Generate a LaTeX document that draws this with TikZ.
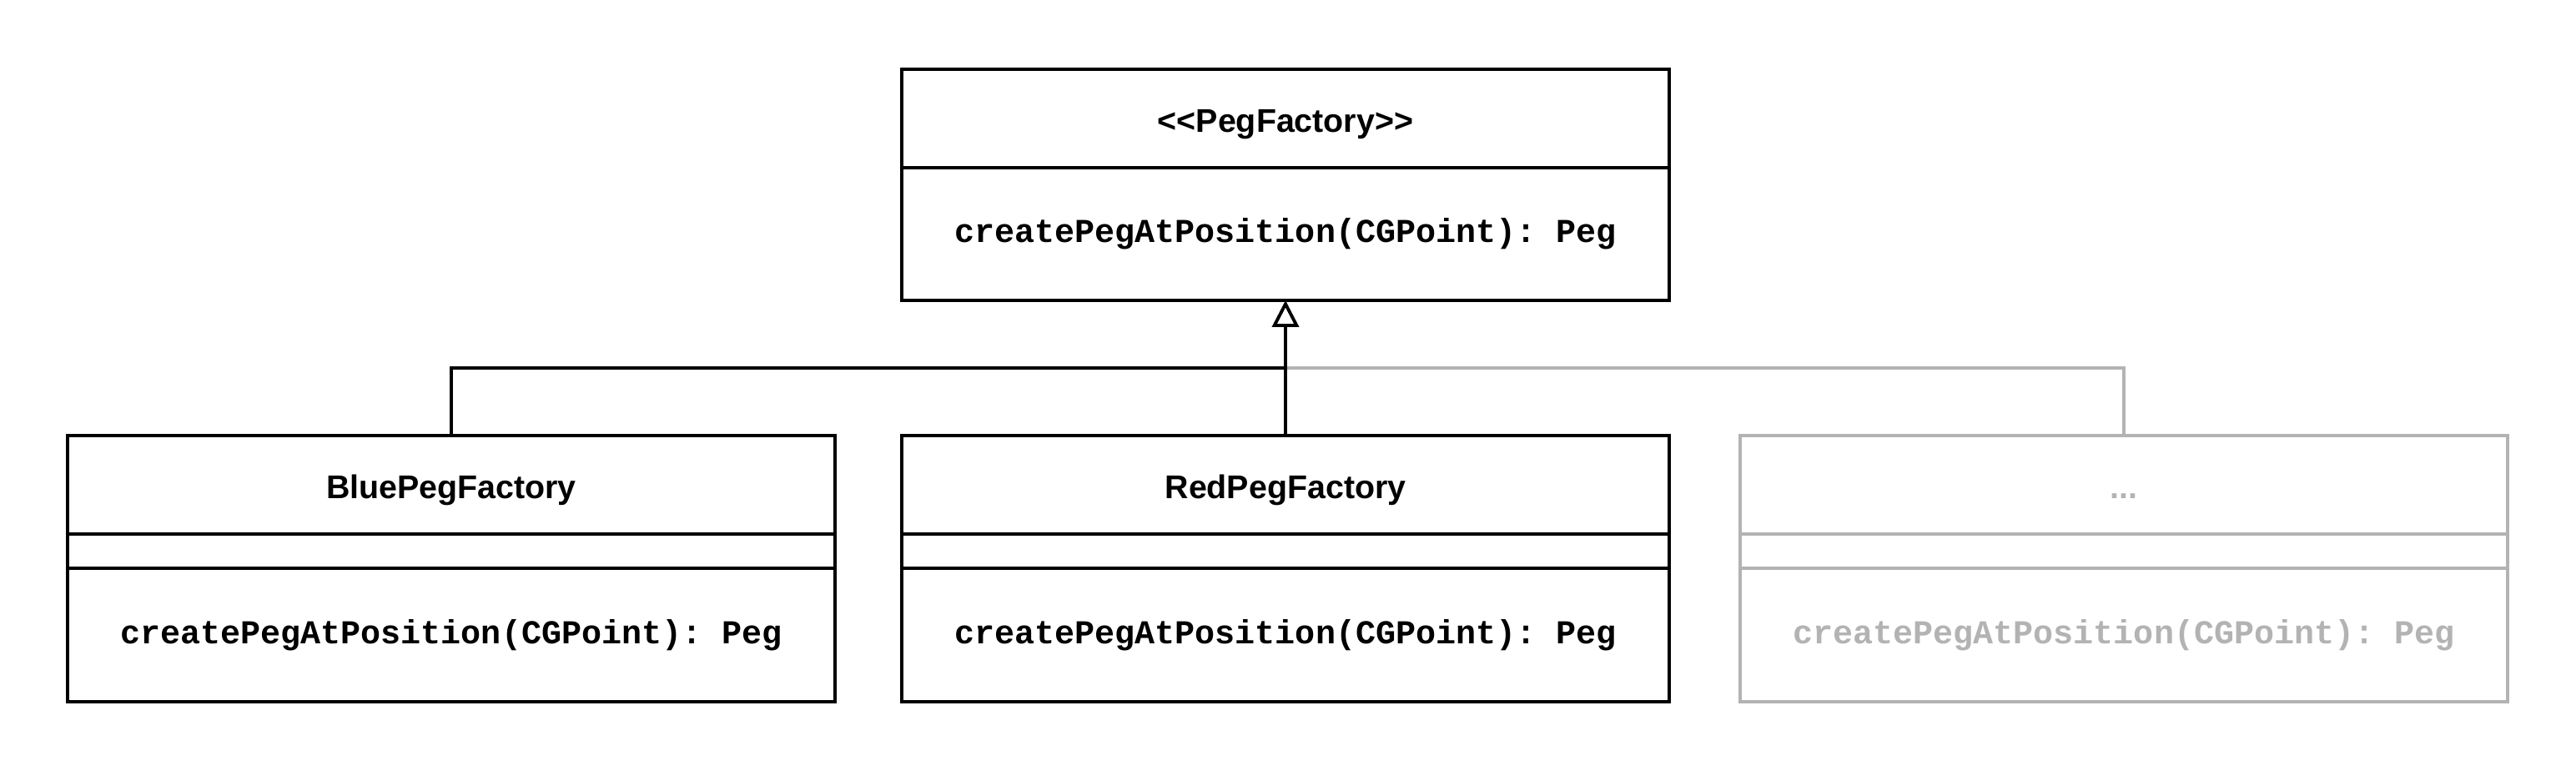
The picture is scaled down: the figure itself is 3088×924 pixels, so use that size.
\documentclass[tikz,border=0pt]{standalone}
\usepackage{fontspec}
\setsansfont{Liberation Sans}
\setmonofont{Liberation Mono}
\usetikzlibrary{arrows.meta}
\definecolor{umlgrey}{RGB}{179,179,179}
\tikzset{
  cls/.style={draw,line width=1.1pt,minimum width=92mm,inner sep=1pt,outer sep=0pt,anchor=north west},
  clsname/.style={cls,minimum height=11.8mm,text height=3.3mm,text depth=0pt,font=\fontsize{11.2}{13}\selectfont\sffamily\bfseries},
  clsattr/.style={cls,minimum height=4.1mm},
  clsop/.style={cls,minimum height=15.9mm,font=\fontsize{11.4}{13}\selectfont\ttfamily\bfseries},
  ghost/.style={draw=umlgrey,text=umlgrey},
  link/.style={line width=1.1pt},
}
\begin{document}
\begin{tikzpicture}[x=.1mm,y=-.1mm]
\path[use as bounding box] (0,0) rectangle (3088,924);
% interface
\node[clsname] (ifacename) at (1081,83) {<{}<PegFactory>{}>};
\node[clsop] (ifaceop) at (ifacename.south west) {createPegAtPosition(CGPoint): Peg};
% concrete factories
\node[clsname] (bluename) at (81,522) {BluePegFactory};
\node[clsattr] (blueattr) at (bluename.south west) {};
\node[clsop,minimum height=16mm] (blueop) at (blueattr.south west) {createPegAtPosition(CGPoint): Peg};
\node[clsname] (redname) at (1081,522) {RedPegFactory};
\node[clsattr] (redattr) at (redname.south west) {};
\node[clsop,minimum height=16mm] (redop) at (redattr.south west) {createPegAtPosition(CGPoint): Peg};
\node[clsname,ghost] (morename) at (2086,522) {...};
\node[clsattr,ghost] (moreattr) at (morename.south west) {};
\node[clsop,ghost,minimum height=16mm] (moreop) at (moreattr.south west) {createPegAtPosition(CGPoint): Peg};
% generalisation
\coordinate (bus) at (1542,441);
\draw[link,umlgrey] (morename.north) |- (bus);
\draw[link] (bluename.north) |- (bus);
\draw[link,-{Triangle[open,length=3.2mm,width=3.2mm]}] (redname.north) -- (ifaceop.south);
\end{tikzpicture}
\end{document}
